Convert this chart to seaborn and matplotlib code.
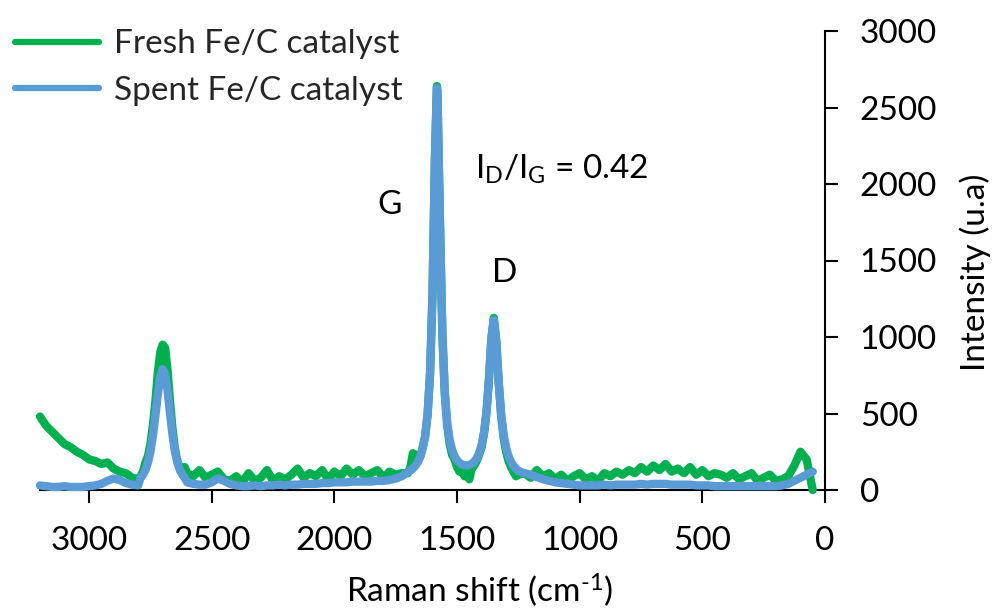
import matplotlib
matplotlib.use("Agg")
import matplotlib.pyplot as plt
import seaborn as sns
import pandas as pd
from matplotlib.lines import Line2D

# ---------------- data ----------------
raman_shift = [
    3200, 3175, 3150, 3125, 3100, 3075, 3050, 3025, 3000, 2975, 2950, 2925, 2900, 2875, 2850, 2825, 2800,
    2790, 2780, 2770, 2760, 2750, 2740, 2730, 2720, 2710, 2700, 2690, 2680, 2670, 2660, 2650, 2640, 2630, 2620, 2610,
    2600, 2575, 2550, 2525, 2500, 2475, 2450, 2425, 2400, 2375, 2350, 2325, 2300, 2275, 2250, 2225, 2200, 2175,
    2150, 2125, 2100, 2075, 2050, 2025, 2000, 1975, 1950, 1925, 1900, 1875, 1850, 1825, 1800, 1775, 1750, 1725,
    1700, 1690, 1680, 1670, 1660, 1650, 1640, 1630, 1620, 1610, 1600, 1590, 1582, 1580, 1570, 1560, 1550, 1540,
    1530, 1520, 1510, 1500, 1490, 1480, 1470, 1460, 1450, 1440, 1430, 1420, 1410, 1400, 1390, 1380, 1370, 1360,
    1350, 1340, 1330, 1320, 1310, 1300, 1290, 1280, 1270, 1260, 1250,
    1225, 1200, 1175, 1150, 1125, 1100, 1075, 1050, 1025, 1000, 975, 950, 925, 900, 875, 850, 825, 800, 775, 750,
    725, 700, 675, 650, 625, 600, 575, 550, 525, 500, 475, 450, 425, 400, 375, 350, 325, 300, 275, 250, 225, 200,
    175, 150, 125, 100, 75, 50,
]

fresh_intensity = [
    480, 420, 380, 340, 300, 280, 250, 230, 200, 190, 170, 180, 140, 120, 110, 80, 70,
    90, 120, 180, 220, 300, 420, 570, 760, 900, 950, 930, 780, 580, 400, 270, 190, 140, 110, 150,
    110, 90, 130, 80, 100, 120, 70, 60, 90, 50, 110, 60, 80, 130, 60, 90, 70, 100,
    140, 80, 110, 90, 130, 70, 120, 90, 140, 100, 130, 90, 110, 130, 80, 120, 100, 110,
    110, 150, 240, 230, 190, 220, 280, 350, 490, 760, 1280, 2180, 2640, 2610, 1790, 1030, 630, 420,
    300, 230, 200, 150, 120, 140, 90, 130, 70, 140, 160, 190, 230, 280, 370, 500, 720, 990,
    1125, 975, 700, 480, 340, 250, 190, 150, 120, 90, 100,
    110, 80, 130, 90, 110, 70, 100, 60, 90, 110, 70, 90, 60, 110, 90, 120, 100, 130, 110, 150,
    120, 160, 130, 170, 120, 140, 110, 150, 100, 130, 90, 110, 100, 80, 110, 70, 90, 110, 60, 80, 100, 60,
    70, 90, 160, 250, 200, 0,
]

spent_intensity = [
    30, 25, 20, 20, 25, 20, 20, 20, 25, 30, 40, 60, 75, 65, 45, 35, 30,
    80, 100, 130, 180, 250, 350, 480, 620, 740, 790, 760, 650, 500, 360, 250, 180, 130, 100, 80,
    50, 40, 35, 35, 50, 75, 60, 40, 30, 25, 25, 30, 25, 30, 30, 35, 30, 35,
    35, 40, 40, 40, 45, 45, 50, 50, 50, 55, 55, 55, 55, 60, 60, 65, 75, 90,
    117, 128, 141, 158, 182, 217, 271, 354, 497, 761, 1280, 2172, 2627, 2600, 1780, 1033, 640, 438,
    327, 262, 220, 194, 177, 167, 162, 161, 164, 172, 185, 207, 241, 293, 377, 511, 721, 989,
    1112, 968, 704, 495, 360, 276, 222, 185, 159, 140, 124,
    110, 100, 85, 70, 60, 50, 45, 40, 35, 30, 30, 30, 30, 35, 30, 35, 35, 35, 35, 40,
    35, 40, 40, 40, 35, 35, 35, 35, 30, 30, 30, 25, 25, 25, 25, 25, 25, 25, 25, 25, 25, 25,
    30, 40, 60, 80, 100, 120,
]

series_names = ["Fresh Fe/C catalyst", "Spent Fe/C catalyst"]
series_colors = ["#00B050", "#5B9BD5"]
x_ticks = [3000, 2500, 2000, 1500, 1000, 500, 0]
y_ticks = [0, 500, 1000, 1500, 2000, 2500, 3000]

# ---------------- figure ----------------
sns.set_theme(style="white")
plt.rcParams["font.family"] = ["Lato", "DejaVu Sans"]
plt.rcParams["mathtext.fontset"] = "custom"
plt.rcParams["mathtext.rm"] = "Lato"
plt.rcParams["mathtext.it"] = "Lato"

FS = 24

fig = plt.figure(figsize=(9.96, 6.13), dpi=100)
ax = fig.add_axes([40 / 996, 1 - 490 / 613, (825 - 40) / 996, (490 - 31) / 613])

df_fresh = pd.DataFrame({"x": raman_shift, "y": fresh_intensity})
df_spent = pd.DataFrame({"x": raman_shift, "y": spent_intensity})

sns.lineplot(data=df_fresh, x="x", y="y", ax=ax, color=series_colors[0], linewidth=6,
             estimator=None, zorder=3, clip_on=False)
sns.lineplot(data=df_spent, x="x", y="y", ax=ax, color=series_colors[1], linewidth=6,
             estimator=None, zorder=4, clip_on=False)

ax.set_xlim(3200, 0)
ax.set_ylim(0, 3000)
ax.set_xticks(x_ticks)
ax.set_yticks(y_ticks)
ax.set_xticklabels([str(v) for v in x_ticks])
ax.set_yticklabels([str(v) for v in y_ticks])

for s in ["top", "left"]:
    ax.spines[s].set_visible(False)
for s in ["bottom", "right"]:
    ax.spines[s].set_visible(True)
    ax.spines[s].set_color("black")
    ax.spines[s].set_linewidth(1.5)
    ax.spines[s].set_zorder(2)

ax.yaxis.tick_right()
ax.tick_params(axis="x", direction="out", length=9, width=1.5, color="black",
               labelsize=FS, pad=17, bottom=True, labelcolor="black")
ax.tick_params(axis="y", direction="out", length=9, width=1.5, color="black",
               labelsize=FS, pad=16, right=True, left=False, labelcolor="black")

ax.set_xlabel(r"Raman shift (cm$^{\text{-1}}$)", fontsize=FS, color="black")
ax.xaxis.set_label_coords((480 - 40) / 785, (490 - 590) / 459)
ax.xaxis.label.set_va("center")

ax.yaxis.set_label_position("right")
ax.set_ylabel("Intensity (u.a)", fontsize=FS, color="black")
ax.yaxis.set_label_coords((975 - 40) / 785, (490 - 272) / 459)
ax.yaxis.label.set_va("center")
ax.yaxis.label.set_ha("center")

ax.text(1773, 1863, "G", fontsize=FS, ha="center", va="center", color="black")
ax.text(1305, 1418, "D", fontsize=FS, ha="center", va="center", color="black")
ax.text(1427, 2092, r"I$_\mathregular{D}$/I$_\mathregular{G}$ = 0.42", fontsize=FS,
        ha="left", va="center", color="black")

handles = [Line2D([0], [0], color=c, linewidth=4.5, solid_capstyle="round") for c in series_colors]
fig.legend(handles, series_names, loc="upper left", bbox_to_anchor=(-0.008, 0.99),
           frameon=False, fontsize=FS, handlelength=2.5, handletextpad=0.45,
           labelspacing=0.5, borderaxespad=0.3)

fig.savefig("out.png", dpi=100, facecolor="white")
